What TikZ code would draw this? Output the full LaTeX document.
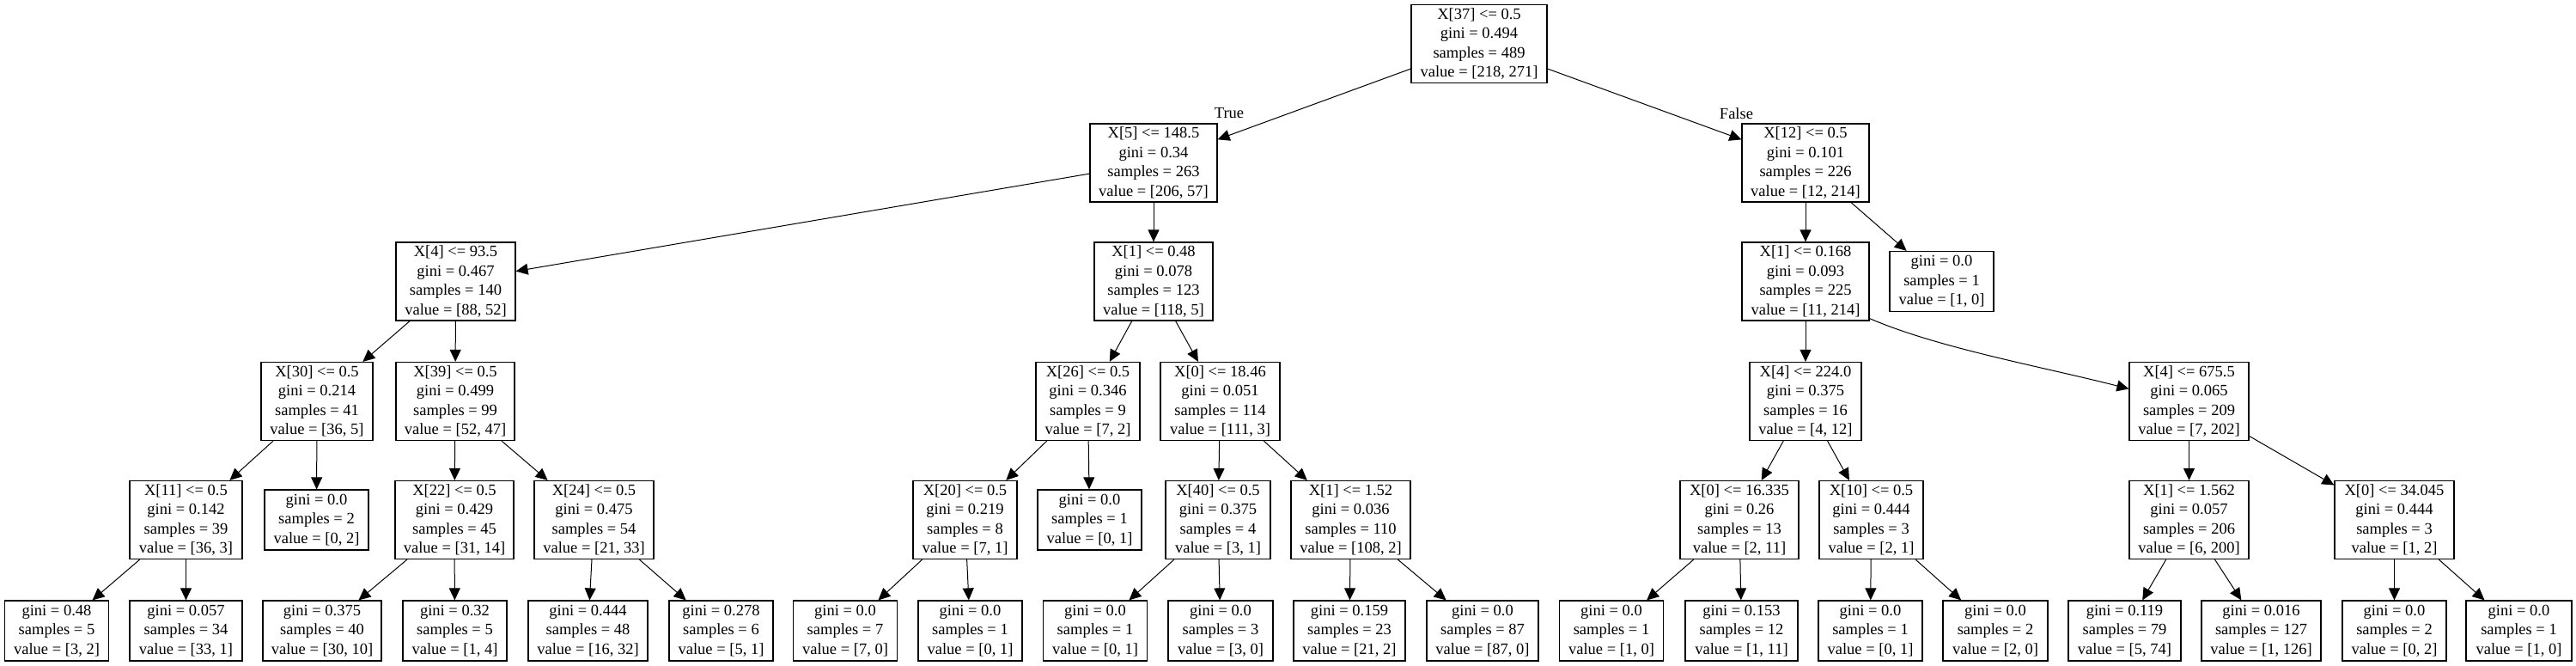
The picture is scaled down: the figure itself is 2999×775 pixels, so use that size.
\documentclass[tikz,border=0pt]{standalone}
\usepackage{fontspec}
\setmainfont{Liberation Serif}
\usetikzlibrary{arrows.meta}
\begin{document}
\begin{tikzpicture}[x=0.5pt,y=-0.5pt,
  box/.style={draw, line width=0.6pt, inner sep=0pt, align=center,
    font=\fontsize{9.25}{11.25}\selectfont, minimum height=45.5pt},
  leaf/.style={box, minimum height=35pt},
  w/.style={minimum width={#1*0.5pt}},
  edge/.style={line width=0.5pt, -{Triangle[length=7pt,width=6.5pt]}},
  lbl/.style={font=\fontsize{9.25}{11.25}\selectfont, inner sep=0pt}]
\useasboundingbox (0,0) rectangle (2999,775);
% row 0
\node[box,w=158] (root) at (1722,51) {X[37] <= 0.5\\gini = 0.494\\samples = 489\\value = [218, 271]};
% row 1
\node[box,w=148] (n5) at (1343,189.5) {X[5] <= 148.5\\gini = 0.34\\samples = 263\\value = [206, 57]};
\node[box,w=148] (n12) at (2102,189.5) {X[12] <= 0.5\\gini = 0.101\\samples = 226\\value = [12, 214]};
% row 2
\node[box,w=139] (n4a) at (530.5,327.5) {X[4] <= 93.5\\gini = 0.467\\samples = 140\\value = [88, 52]};
\node[box,w=138] (n1a) at (1343,327.5) {X[1] <= 0.48\\gini = 0.078\\samples = 123\\value = [118, 5]};
\node[box,w=148] (n1b) at (2102,327.5) {X[1] <= 0.168\\gini = 0.093\\samples = 225\\value = [11, 214]};
\node[leaf,w=121] (leafA) at (2260.5,327.5) {gini = 0.0\\samples = 1\\value = [1, 0]};
% row 3
\node[box,w=130] (n30) at (369,467) {X[30] <= 0.5\\gini = 0.214\\samples = 41\\value = [36, 5]};
\node[box,w=138] (n39) at (530,467) {X[39] <= 0.5\\gini = 0.499\\samples = 99\\value = [52, 47]};
\node[box,w=121] (n26) at (1266.5,467) {X[26] <= 0.5\\gini = 0.346\\samples = 9\\value = [7, 2]};
\node[box,w=139] (n0a) at (1420.5,467) {X[0] <= 18.46\\gini = 0.051\\samples = 114\\value = [111, 3]};
\node[box,w=130] (n4b) at (2102,467) {X[4] <= 224.0\\gini = 0.375\\samples = 16\\value = [4, 12]};
\node[box,w=139] (n4c) at (2548.5,467) {X[4] <= 675.5\\gini = 0.065\\samples = 209\\value = [7, 202]};
% row 4
\node[box,w=131] (n11) at (216.5,605) {X[11] <= 0.5\\gini = 0.142\\samples = 39\\value = [36, 3]};
\node[leaf,w=121] (leafB) at (368.5,605) {gini = 0.0\\samples = 2\\value = [0, 2]};
\node[box,w=138] (n22) at (529,605) {X[22] <= 0.5\\gini = 0.429\\samples = 45\\value = [31, 14]};
\node[box,w=139] (n24) at (691.5,605) {X[24] <= 0.5\\gini = 0.475\\samples = 54\\value = [21, 33]};
\node[box,w=121] (n20) at (1123.5,605) {X[20] <= 0.5\\gini = 0.219\\samples = 8\\value = [7, 1]};
\node[leaf,w=121] (leafC) at (1268.5,605) {gini = 0.0\\samples = 1\\value = [0, 1]};
\node[box,w=122] (n40) at (1418,605) {X[40] <= 0.5\\gini = 0.375\\samples = 4\\value = [3, 1]};
\node[box,w=139] (n1c) at (1572.5,605) {X[1] <= 1.52\\gini = 0.036\\samples = 110\\value = [108, 2]};
\node[box,w=138] (n0b) at (2025,605) {X[0] <= 16.335\\gini = 0.26\\samples = 13\\value = [2, 11]};
\node[box,w=121] (n10) at (2178.5,605) {X[10] <= 0.5\\gini = 0.444\\samples = 3\\value = [2, 1]};
\node[box,w=139] (n1d) at (2548.5,605) {X[1] <= 1.562\\gini = 0.057\\samples = 206\\value = [6, 200]};
\node[box,w=139] (n0c) at (2787.5,605) {X[0] <= 34.045\\gini = 0.444\\samples = 3\\value = [1, 2]};
% row 5
\node[leaf,w=121] (L1) at (66,734) {gini = 0.48\\samples = 5\\value = [3, 2]};
\node[leaf,w=131] (L2) at (216.5,734) {gini = 0.057\\samples = 34\\value = [33, 1]};
\node[leaf,w=138] (L3) at (375,734) {gini = 0.375\\samples = 40\\value = [30, 10]};
\node[leaf,w=121] (L4) at (529.5,734) {gini = 0.32\\samples = 5\\value = [1, 4]};
\node[leaf,w=139] (L5) at (684.5,734) {gini = 0.444\\samples = 48\\value = [16, 32]};
\node[leaf,w=121] (L6) at (839.5,734) {gini = 0.278\\samples = 6\\value = [5, 1]};
\node[leaf,w=121] (L7) at (984,734) {gini = 0.0\\samples = 7\\value = [7, 0]};
\node[leaf,w=121] (L8) at (1129.5,734) {gini = 0.0\\samples = 1\\value = [0, 1]};
\node[leaf,w=121] (L9) at (1275,734) {gini = 0.0\\samples = 1\\value = [0, 1]};
\node[leaf,w=122] (L10) at (1421,734) {gini = 0.0\\samples = 3\\value = [3, 0]};
\node[leaf,w=130] (L11) at (1571,734) {gini = 0.159\\samples = 23\\value = [21, 2]};
\node[leaf,w=130] (L12) at (1726,734) {gini = 0.0\\samples = 87\\value = [87, 0]};
\node[leaf,w=121] (L13) at (1876,734) {gini = 0.0\\samples = 1\\value = [1, 0]};
\node[leaf,w=131] (L14) at (2027.5,734) {gini = 0.153\\samples = 12\\value = [1, 11]};
\node[leaf,w=121] (L15) at (2177.5,734) {gini = 0.0\\samples = 1\\value = [0, 1]};
\node[leaf,w=122] (L16) at (2323,734) {gini = 0.0\\samples = 2\\value = [2, 0]};
\node[leaf,w=131] (L17) at (2473.5,734) {gini = 0.119\\samples = 79\\value = [5, 74]};
\node[leaf,w=139] (L18) at (2632.5,734) {gini = 0.016\\samples = 127\\value = [1, 126]};
\node[leaf,w=121] (L19) at (2787.5,734) {gini = 0.0\\samples = 2\\value = [0, 2]};
\node[leaf,w=123] (L20) at (2932.5,734) {gini = 0.0\\samples = 1\\value = [1, 0]};
% labels
\node[lbl] (tlab) at (1431,132) {True};
\node[lbl] (flab) at (2021.5,132) {False};
% edges
\draw[edge] (root) -- (n5);
\draw[edge] (root) -- (n12);
\draw[edge] (n5) -- (n4a);
\draw[edge] (n5) -- (n1a);
\draw[edge] (n4a) -- (n30);
\draw[edge] (n4a) -- (n39);
\draw[edge] (n30) -- (n11);
\draw[edge] (n30) -- (leafB);
\draw[edge] (n11) -- (L1);
\draw[edge] (n11) -- (L2);
\draw[edge] (n39) -- (n22);
\draw[edge] (n39) -- (n24);
\draw[edge] (n22) -- (L3);
\draw[edge] (n22) -- (L4);
\draw[edge] (n24) -- (L5);
\draw[edge] (n24) -- (L6);
\draw[edge] (n1a) -- (n26);
\draw[edge] (n1a) -- (n0a);
\draw[edge] (n26) -- (n20);
\draw[edge] (n26) -- (leafC);
\draw[edge] (n20) -- (L7);
\draw[edge] (n20) -- (L8);
\draw[edge] (n0a) -- (n40);
\draw[edge] (n0a) -- (n1c);
\draw[edge] (n40) -- (L9);
\draw[edge] (n40) -- (L10);
\draw[edge] (n1c) -- (L11);
\draw[edge] (n1c) -- (L12);
\draw[edge] (n12) -- (n1b);
\draw[edge] (n12) -- (leafA);
\draw[edge] (n1b) -- (n4b);
\draw[edge] ([yshift=1.5pt]n1b.south east) .. controls (2256,405) and (2379,427) .. ([yshift=7.25pt]n4c.west);
\draw[edge] (n4b) -- (n0b);
\draw[edge] (n4b) -- (n10);
\draw[edge] (n0b) -- (L13);
\draw[edge] (n0b) -- (L14);
\draw[edge] (n10) -- (L15);
\draw[edge] (n10) -- (L16);
\draw[edge] (n4c) -- (n1d);
\draw[edge] (n4c) -- (n0c);
\draw[edge] (n1d) -- (L17);
\draw[edge] (n1d) -- (L18);
\draw[edge] (n0c) -- (L19);
\draw[edge] (n0c) -- (L20);
\end{tikzpicture}
\end{document}
